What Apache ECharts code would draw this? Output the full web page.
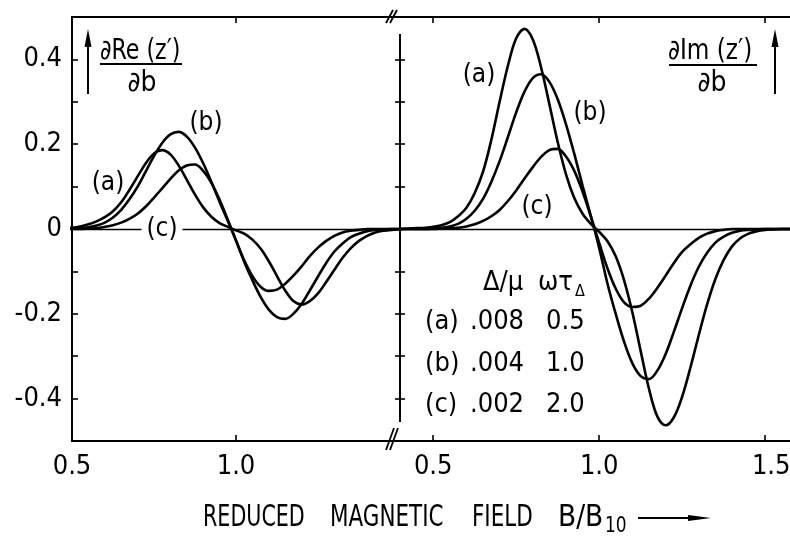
<!DOCTYPE html>
<html>
<head>
<meta charset="utf-8">
<script src="https://cdn.jsdelivr.net/npm/echarts@6.0.0/dist/echarts.min.js"></script>
<style>
    html, body { margin: 0; padding: 0; background: #fff; }
    #chart { width: 790px; height: 537px; }
</style>
</head>
<body>
<div id="chart"></div>
<script>
// ==================
// DATA
// ==================

// reduced magnetic field b = B/B10
const fieldB = [
    0.400, 0.425, 0.450, 0.475, 0.500, 0.525, 0.550, 0.575, 0.600, 0.625,
    0.650, 0.675, 0.700, 0.725, 0.750, 0.775, 0.800, 0.825, 0.850, 0.875,
    0.900, 0.925, 0.950, 0.975, 1.000, 1.025, 1.050, 1.075, 1.100, 1.125,
    1.150, 1.175, 1.200, 1.225, 1.250, 1.275, 1.300, 1.325, 1.350, 1.375,
    1.400, 1.425, 1.450, 1.475, 1.500, 1.525, 1.550, 1.575, 1.600
];

// dRe(z')/db
const reA = [
    0, 0, 0.001, 0.002, 0.003, 0.006, 0.011, 0.018, 0.028, 0.042,
    0.063, 0.092, 0.124, 0.155, 0.178, 0.186, 0.176, 0.150, 0.116, 0.081,
    0.051, 0.029, 0.014, 0.005, -0.003, -0.011, -0.025, -0.046, -0.076, -0.111,
    -0.145, -0.170, -0.178, -0.170, -0.152, -0.125, -0.096, -0.068, -0.045, -0.028,
    -0.016, -0.008, -0.004, -0.002, -0.001, 0, 0, 0, 0
];
const reB = [
    0, 0, 0, 0, 0.001, 0.002, 0.004, 0.008, 0.015, 0.027,
    0.045, 0.070, 0.100, 0.136, 0.172, 0.203, 0.223, 0.229, 0.218, 0.192,
    0.155, 0.111, 0.064, 0.019, -0.027, -0.077, -0.121, -0.160, -0.190, -0.208,
    -0.212, -0.200, -0.177, -0.145, -0.112, -0.080, -0.053, -0.034, -0.019, -0.011,
    -0.005, -0.002, -0.001, 0, 0, 0, 0, 0, 0
];
const reC = [
    0, 0, 0, 0, 0, 0, 0.001, 0.002, 0.005, 0.009,
    0.015, 0.024, 0.036, 0.053, 0.074, 0.096, 0.118, 0.138, 0.150, 0.152,
    0.137, 0.109, 0.069, 0.022, -0.027, -0.074, -0.111, -0.136, -0.146, -0.143,
    -0.129, -0.110, -0.088, -0.064, -0.044, -0.028, -0.016, -0.008, -0.004, -0.002,
    0, 0, 0, 0, 0, 0, 0, 0, 0
];

// dIm(z')/db
const imA = [
    0, 0.001, 0.002, 0.003, 0.005, 0.009, 0.016, 0.030, 0.050, 0.085,
    0.135, 0.210, 0.300, 0.385, 0.450, 0.472, 0.447, 0.381, 0.294, 0.205,
    0.129, 0.073, 0.036, 0.012, -0.007, -0.029, -0.065, -0.121, -0.197, -0.288,
    -0.377, -0.442, -0.463, -0.444, -0.395, -0.326, -0.250, -0.178, -0.118, -0.073,
    -0.041, -0.022, -0.011, -0.005, -0.002, -0.001, 0, 0, 0
];
const imB = [
    0, 0, 0, 0, 0.001, 0.003, 0.006, 0.012, 0.024, 0.043,
    0.071, 0.111, 0.160, 0.217, 0.275, 0.324, 0.356, 0.365, 0.347, 0.306,
    0.247, 0.177, 0.102, 0.030, -0.045, -0.129, -0.201, -0.266, -0.317, -0.347,
    -0.354, -0.334, -0.295, -0.242, -0.186, -0.133, -0.089, -0.056, -0.032, -0.018,
    -0.009, -0.004, -0.002, -0.001, 0, 0, 0, 0, 0
];
const imC = [
    0, 0, 0, 0, 0, 0.001, 0.002, 0.003, 0.006, 0.011,
    0.019, 0.030, 0.045, 0.066, 0.091, 0.119, 0.146, 0.170, 0.186, 0.189,
    0.171, 0.137, 0.088, 0.029, -0.033, -0.093, -0.141, -0.173, -0.184, -0.181,
    -0.164, -0.139, -0.110, -0.080, -0.054, -0.036, -0.021, -0.011, -0.005, -0.002,
    0, 0, 0, 0, 0, 0, 0, 0, 0
];

// axis ticks
const xTicksLeft = [0.5, 1.0];
const xTicksRight = [0.5, 1.0, 1.5];
const xTopTicksLeft = [1.0];
const yLabelTicks = [-0.4, -0.2, 0, 0.2, 0.4];
const yMinorTicks = [-0.4, -0.3, -0.2, -0.1, 0, 0.1, 0.2, 0.3, 0.4];

// parameter table
const paramHeader = ['Δ/μ', 'ωτ', 'Δ'];
const paramRows = [
    ['(a)', '.008', '0.5'],
    ['(b)', '.004', '1.0'],
    ['(c)', '.002', '2.0']
];

// ==================
// CONFIG
// ==================

const config = {
    font: "'DejaVu Sans Condensed', 'Liberation Sans Narrow', 'DejaVu Sans', sans-serif",
    ink: '#000',
    curveWidth: 2.6,
    axisWidth: 2,
    zeroWidth: 1.3,
    labelSize: 27,
    left: { x: 72, width: 328, min: 0.5, max: 1.5 },
    right: { x: 400, width: 393, min: 0.4, max: 1.5837 },
    top: 17,
    bottom: 96
};

// ==================
// ECHARTS INIT
// ==================

const chart = echarts.init(document.getElementById('chart'));

// ==================
// HELPERS
// ==================

function pairs(xs, ys) {
    return xs.map((x, i) => [x, ys[i]]);
}

function fmtY(v) {
    return Math.abs(v) < 1e-9 ? '0' : v.toFixed(1);
}

function curve(name, ys, xIdx, yIdx, extra) {
    return Object.assign({
        name: name,
        type: 'line',
        xAxisIndex: xIdx,
        yAxisIndex: yIdx,
        data: pairs(fieldB, ys),
        smooth: 0.35,
        symbol: 'none',
        silent: true,
        lineStyle: { color: config.ink, width: config.curveWidth }
    }, extra || {});
}

function zeroLine() {
    return {
        silent: true,
        symbol: 'none',
        label: { show: false },
        lineStyle: { color: config.ink, width: config.zeroWidth, type: 'solid' },
        data: [{ yAxis: 0 }]
    };
}

function xAxisBase(gridIndex, panel, position, ticks, labels) {
    return {
        type: 'value',
        gridIndex: gridIndex,
        position: position,
        min: panel.min,
        max: panel.max,
        axisLine: { show: true, onZero: false, lineStyle: { color: config.ink, width: config.axisWidth } },
        axisTick: { show: true, inside: true, length: 6, customValues: ticks, lineStyle: { color: config.ink, width: 1.6 } },
        axisLabel: labels ? {
            show: true,
            customValues: labels,
            margin: 12,
            color: config.ink,
            fontSize: config.labelSize,
            fontFamily: config.font,
            // last label sits a little right of its tick, as in the figure
            formatter: v => (Math.abs(v - 1.5) < 1e-9 ? '{e|1.5}' : v.toFixed(1)),
            rich: { e: { padding: [0, 0, 0, 12], fontSize: config.labelSize, fontFamily: config.font, color: config.ink } }
        } : { show: false },
        splitLine: { show: false }
    };
}

function yAxisBase(gridIndex, opts) {
    return Object.assign({
        type: 'value',
        gridIndex: gridIndex,
        min: -0.5,
        max: 0.5,
        axisLine: { show: false },
        axisTick: { show: true, inside: true, length: 6, customValues: yMinorTicks, lineStyle: { color: config.ink, width: 1.6 } },
        axisLabel: { show: false },
        splitLine: { show: false }
    }, opts);
}

function text(str, x, y, opts) {
    const o = opts || {};
    return {
        type: 'text',
        x: x,
        y: y,
        z: 100,
        scaleX: o.scaleX || 1,
        silent: true,
        style: Object.assign({
            text: str,
            fill: config.ink,
            fontSize: o.size || config.labelSize,
            fontFamily: config.font,
            textAlign: o.align || 'left',
            textVerticalAlign: 'middle'
        }, o.style || {})
    };
}

function seg(x1, y1, x2, y2, w) {
    return {
        type: 'line',
        z: 100,
        silent: true,
        shape: { x1: x1, y1: y1, x2: x2, y2: y2 },
        style: { stroke: config.ink, lineWidth: w || 1.8 }
    };
}

function head(points) {
    return {
        type: 'polygon',
        z: 100,
        silent: true,
        shape: { points: points },
        style: { fill: config.ink }
    };
}

// ==================
// ANNOTATIONS
// ==================

const graphics = [
    // axis break marks
    seg(386, 23, 393, 10), seg(390, 23, 397, 10),
    seg(386, 450, 394, 428), seg(390, 450, 398, 428),

    // left quantity: dRe(z')/db with arrow
    seg(88, 94, 88, 44, 2), head([[84.5, 47], [88, 29], [91.5, 47]]),
    text('∂Re (z′)', 100, 52, { size: 28, scaleX: 0.88 }),
    seg(100, 64, 182, 64, 1.8),
    text('∂b', 142, 84, { size: 28, align: 'center' }),

    // right quantity: dIm(z')/db with arrow
    seg(775, 94, 775, 44, 2), head([[771.5, 47], [775, 29], [778.5, 47]]),
    text('∂Im (z′)', 668, 52, { size: 28, scaleX: 0.92 }),
    seg(669, 65, 757, 65, 1.8),
    text('∂b', 712, 84, { size: 28, align: 'center' }),

    // curve labels, left panel
    text(paramRows[0][0], 108, 183, { align: 'center', size: 26 }),
    text(paramRows[1][0], 206, 123, { align: 'center', size: 26 }),
    text(paramRows[2][0], 162, 229, { align: 'center', size: 26, style: { backgroundColor: '#fff', padding: [0, 5] } }),

    // curve labels, right panel
    text(paramRows[0][0], 479, 75, { align: 'center', size: 26 }),
    text(paramRows[1][0], 590, 113, { align: 'center', size: 26 }),
    text(paramRows[2][0], 537, 207, { align: 'center', size: 26 }),

    // parameter table
    text(paramHeader[0], 483, 283),
    text(paramHeader[1], 538, 283),
    text(paramHeader[2], 575, 292, { size: 16 }),

    // x-axis title
    text('REDUCED', 203, 518, { size: 31, scaleX: 0.74 }),
    text('MAGNETIC', 330, 518, { size: 31, scaleX: 0.77 }),
    text('FIELD', 472, 518, { size: 31, scaleX: 0.77 }),
    text('B/B', 558, 518, { size: 31, scaleX: 0.95 }),
    text('10', 605, 527, { size: 21, scaleX: 0.9 }),
    seg(638, 518, 692, 518, 2), head([[688, 515], [711, 518], [688, 521]])
];

paramRows.forEach((row, i) => {
    const y = 322 + i * 41.5;
    graphics.push(text(row[0], 425, y));
    graphics.push(text(row[1], 470, y));
    graphics.push(text(row[2], 546, y));
});

// ==================
// OPTION
// ==================

const option = {
    animation: false,
    backgroundColor: '#fff',
    grid: [
        { left: config.left.x, top: config.top, width: config.left.width, bottom: config.bottom, containLabel: false, outerBoundsMode: 'none' },
        { left: config.right.x, top: config.top, width: config.right.width, bottom: config.bottom, containLabel: false, outerBoundsMode: 'none' }
    ],
    xAxis: [
        xAxisBase(0, config.left, 'bottom', xTicksLeft.slice(1), xTicksLeft),
        xAxisBase(0, config.left, 'top', xTopTicksLeft, null),
        xAxisBase(1, config.right, 'bottom', xTicksRight, xTicksRight),
        xAxisBase(1, config.right, 'top', xTicksRight, null)
    ],
    yAxis: [
        yAxisBase(0, {
            position: 'left',
            axisLine: { show: true, onZero: false, lineStyle: { color: config.ink, width: config.axisWidth } },
            axisLabel: {
                show: true,
                customValues: yLabelTicks,
                margin: 10,
                color: config.ink,
                fontSize: config.labelSize,
                fontFamily: config.font,
                formatter: fmtY
            }
        }),
        // middle axis: ticks crossing both ways
        yAxisBase(1, { position: 'left', axisTick: { show: true, inside: false, length: 5, customValues: yMinorTicks, lineStyle: { color: config.ink, width: 1.6 } } }),
        yAxisBase(1, { position: 'left', axisTick: { show: true, inside: true, length: 5, customValues: yMinorTicks, lineStyle: { color: config.ink, width: 1.6 } } })
    ],
    series: [
        curve('Re (a)', reA, 0, 0, { markLine: zeroLine() }),
        curve('Re (b)', reB, 0, 0),
        curve('Re (c)', reC, 0, 0),
        curve('Im (a)', imA, 2, 1, {
            clip: false,
            markLine: {
                silent: true,
                symbol: 'none',
                label: { show: false },
                lineStyle: { color: config.ink, width: config.zeroWidth, type: 'solid' },
                data: [
                    { yAxis: 0 },
                    [
                        { coord: [config.right.min, 0.46], lineStyle: { width: config.axisWidth } },
                        { coord: [config.right.min, -0.455] }
                    ]
                ]
            }
        }),
        curve('Im (b)', imB, 2, 1, { clip: false }),
        curve('Im (c)', imC, 2, 1, { clip: false })
    ],
    graphic: graphics
};

chart.setOption(option);
</script>
</body>
</html>
